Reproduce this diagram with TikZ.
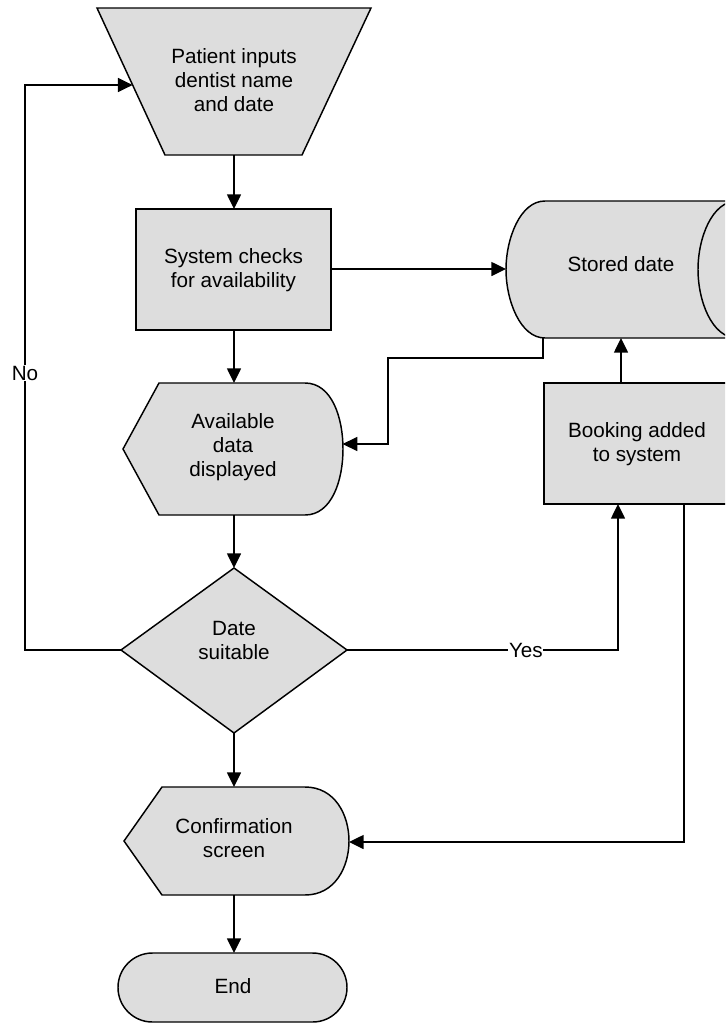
\documentclass[tikz,border=0pt]{standalone}
\usepackage{fontspec}
\setmainfont{Liberation Sans}
\usetikzlibrary{arrows.meta}
\definecolor{shapegray}{HTML}{DDDDDD}
\begin{document}
\begin{tikzpicture}[x=0.75pt,y=-0.75pt,
  shp/.style={draw=black,fill=shapegray,line width=1.1pt,line join=miter},
  lbl/.style={align=center,font=\fontsize{15.5pt}{18pt}\selectfont,inner sep=0pt},
  conn/.style={draw,line width=1.1pt,-{Triangle[length=11pt,width=10.5pt]}},
  edgelbl/.style={fill=white,inner sep=0.5pt,font=\fontsize{15.5pt}{18pt}\selectfont}]
\useasboundingbox (0,0) rectangle (725,1025);

% ---- shapes ----
% manual input (trapezoid)
\draw[shp] (97,8) -- (371,8) -- (302,155) -- (165,155) -- cycle;
% process
\draw[shp] (136,209) rectangle (331,330);
% display: available data
\draw[shp] (159,383) -- (305,383) .. controls (332,383) and (343,418) .. (343,449)
  .. controls (343,480) and (332,515) .. (305,515) -- (159,515) -- (123,449) -- cycle;
% decision
\draw[shp] (234,568) -- (347,650) -- (234,733) -- (121,650) -- cycle;
% display: confirmation
\draw[shp] (162,787) -- (305,787) .. controls (335,787) and (349,815) .. (349,841)
  .. controls (349,867) and (335,895) .. (305,895) -- (162,895) -- (124,841) -- cycle;
% terminator
\draw[shp,rounded corners=25.8pt] (118,953) rectangle (347,1022);
\begin{scope}
\clip (0,0) rectangle (725,1025);
% stored data
\draw[shp] (545,201) -- (737,201) .. controls (762,201) and (776,238) .. (776,269.5)
  .. controls (776,301) and (762,338) .. (737,338) -- (545,338)
  .. controls (520,338) and (506,300) .. (506,269.5)
  .. controls (506,239) and (520,201) .. (545,201) -- cycle;
\draw[line width=1.1pt] (737,201) .. controls (712,201) and (698,238) .. (698,269.5)
  .. controls (698,301) and (712,338) .. (737,338);
% process: booking
\draw[shp] (544,383) rectangle (730,504);
\end{scope}

% ---- labels ----
\node[lbl] (trap) at (234,80) {Patient inputs\\dentist name\\and date};
\node[lbl] (check) at (233.5,270) {System checks\\for availability};
\node[lbl] (avail) at (233,447) {Available\\data\\displayed};
\node[lbl] (date) at (234,640) {Date\\suitable};
\node[lbl] (conf) at (234,838) {Confirmation\\screen};
\node[lbl] (end) at (233,986) {End};
\node[lbl] (stored) at (621,264) {Stored date};
\node[lbl] (book) at (637,444) {Booking added\\to system};

% ---- anchor points ----
\coordinate (trapB) at (234,155);
\coordinate (trapL) at (132.6,85);
\coordinate (checkT) at (234,209);
\coordinate (checkB) at (234,330);
\coordinate (checkR) at (331,269);
\coordinate (availT) at (234,383);
\coordinate (availB) at (234,515);
\coordinate (availR) at (342.6,444);
\coordinate (dateT) at (234,568);
\coordinate (dateB) at (234,733);
\coordinate (dateL) at (121,650);
\coordinate (dateR) at (347,650);
\coordinate (confT) at (234,787);
\coordinate (confB) at (234,895);
\coordinate (confR) at (349,842);
\coordinate (endT) at (234,953);
\coordinate (storedL) at (506,269);
\coordinate (storedB1) at (543,338);
\coordinate (storedB2) at (621,338);
\coordinate (bookT) at (621,383);
\coordinate (bookBL) at (618,504);
\coordinate (bookBR) at (684,504);

% ---- connectors ----
\draw[conn] (trapB) -- (checkT);
\draw[conn] (checkB) -- (availT);
\draw[conn] (availB) -- (dateT);
\draw[conn] (dateB) -- (confT);
\draw[conn] (confB) -- (endT);
\draw[conn] (checkR) -- (storedL);
\draw[conn] (storedB1) -- (543,358) -- (388,358) -- (388,444) -- (availR);
\draw[conn] (bookT) -- (storedB2);
\draw[conn] (dateR) -- node[edgelbl,pos=0.66] {Yes} (618,650) -- (bookBL);
\draw[conn] (dateL) -- (25,650) -- node[edgelbl,pos=0.49] {No} (25,85) -- (trapL);
\draw[conn] (bookBR) -- (684,842) -- (confR);
\end{tikzpicture}
\end{document}
